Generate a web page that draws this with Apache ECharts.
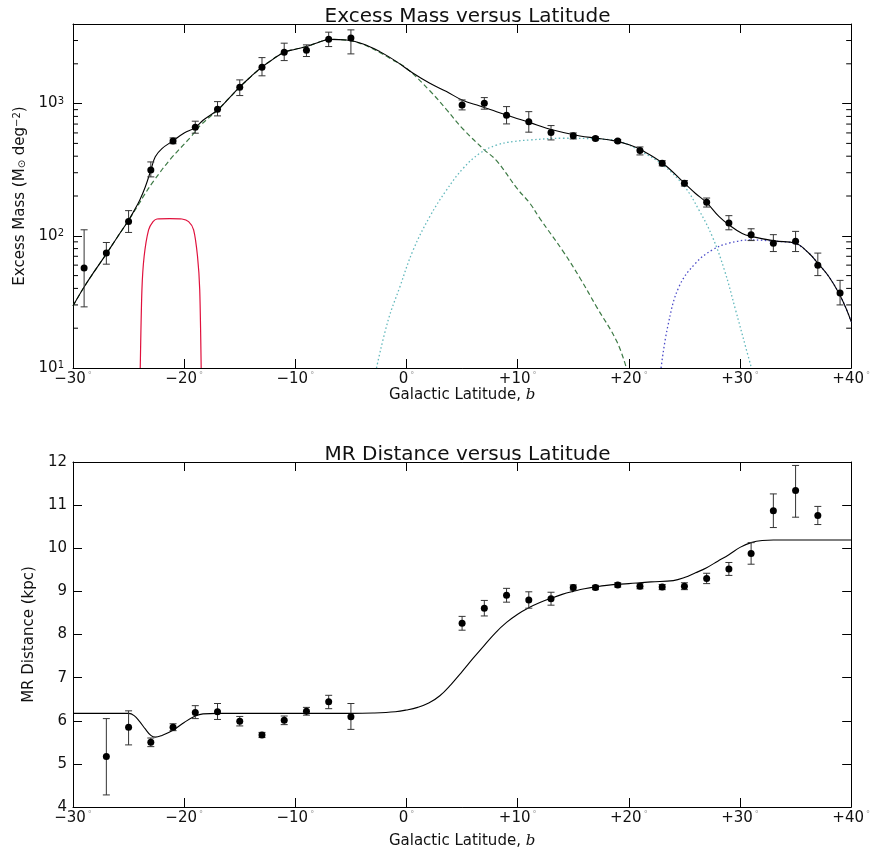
<!DOCTYPE html>
<html><head><meta charset="utf-8">
<script src="https://cdn.jsdelivr.net/npm/echarts@6/dist/echarts.min.js"></script>
<style>html,body{margin:0;padding:0;background:#fff}#c{width:873px;height:855px}</style>
</head><body><div id="c"></div>
<script>
// ---------- data ----------
const latTicks = [-30, -20, -10, 0, 10, 20, 30, 40];
const massDecades = [10, 100, 1000];
const massMinorTicks = [20,30,40,50,60,70,80,90,200,300,400,500,600,700,800,900,2000,3000];

// Excess mass measurements
const massX  = [-29,-27,-25,-23,-21,-19,-17,-15,-13,-11,-9,-7,-5, 5,7,9,11,13,15,17,19,21,23,25,27,29,31,33,35,37,39];
const massY  = [57,74,128,315,522,663,907,1330,1885,2450,2535,3070,3140, 977,1007,817,728,604,570,545,522,442,354,250,179,125,102,88,91,60,37];
const massHi = [111,89,155,362,550,736,1035,1511,2228,2864,2780,3470,3610, 1066,1110,949,869,682,600,560,535,470,370,262,193,142,113,102,108,74,46];
const massLo = [29,61,106,279,497,597,807,1150,1622,2115,2270,2700,2376, 896,907,702,608,531,540,530,508,409,338,238,165,111,92,76,76,50,30];

// Total fit (black solid)
const totalX = [-30,-29,-28,-27,-26,-25,-24.5,-24,-23.5,-23,-22.6,-22,-21,-20,-19,-18.3,-17,-16,-15,-14,-13,-12,-11,-10,-9,-8,-6.9,-5.4,-3.9,-2.4,-0.9,0.6,2.1,3.6,5.1,6.6,8.1,9.6,11.1,12.6,14.1,15.6,17.1,18.6,20.1,21.1,23.05,25,26,27,28.1,29,30.2,31.1,33.1,35,36.2,37,38,38.9,39.6,40];
const totalY = [29.5,41,55,73,98,131,155,186,234,313,396,457,523,600,658,748,895,1090,1337,1600,1893,2170,2450,2576,2700,2890,3060,3030,2825,2472,2078,1696,1425,1233,1054,960,869,788,718,650,604,569,547,525,487,447,354,250,209,178,140,121,104,98.6,91.5,87.9,73.8,62,49,36.7,27.5,22.4];

// Broad component (green dashed)
const broadX = [-30,-29,-28,-27,-26,-25,-24,-23.6,-22.7,-21.2,-19.4,-18.5,-17,-16,-15,-14,-13,-12,-11,-10,-9,-8,-6.9,-5.4,-3.9,-2.4,-1.5,0,2.1,3.6,5.1,7,8.1,10,11.1,12,14.1,15.6,17.1,18.9,19.75];
const broadY = [29.5,41,55,73,98,131,178,203,263,383,560,690,890,1090,1330,1600,1890,2170,2450,2576,2700,2890,3060,3020,2800,2440,2200,1850,1250,900,640,447,370,225,176,135,76,48,29,16,10.2];

// Narrow component (red)
const narrowX = [-23.95,-23.8,-23.6,-23.2,-22.8,-22.45,-21.3,-20.2,-19.6,-19.15,-18.8,-18.6,-18.47];
const narrowY = [10,39,70,111,128,134,135,134,128,111,70,39,10];

// Middle component (cyan dotted)
const midX = [-2.7,-1.65,-0.6,0.6,2.1,3.6,5.1,6.6,8.1,9.6,11.1,14.1,17.1,19.2,21.1,23.05,25,26.3,27.5,28.6,29.6,30.5,31];
const midY = [10,23,41,78,140,222,324,421,486,516,531,547,540,516,434,344,236,157,99,55,27.5,14.5,10.2];

// Far component (blue dotted)
const farX = [22.9,23.5,24.5,26,27.5,29,31.1,33.1,35,36.2,37,38,38.9,39.6,40];
const farY = [10,20.6,41,62,78,88,93,91,87,73.8,62,49,36.7,27.5,22.4];

// MR distance measurements
const distX  = [-27,-25,-23,-21,-19,-17,-15,-13,-11,-9,-7,-5,5,7,9,11,13,15,17,19,21,23,25,27,29,31,33,35,37];
const distY  = [5.17,5.85,5.50,5.85,6.19,6.21,5.99,5.67,6.01,6.22,6.44,6.09,8.26,8.61,8.91,8.80,8.83,9.09,9.09,9.15,9.12,9.10,9.12,9.30,9.52,9.88,10.87,11.34,10.76];
const distHi = [6.05,6.23,5.60,5.93,6.35,6.40,6.10,5.73,6.11,6.31,6.59,6.40,8.42,8.79,9.07,8.99,8.98,9.15,9.14,9.20,9.18,9.16,9.20,9.42,9.67,10.13,11.26,11.92,10.97];
const distLo = [4.28,5.44,5.40,5.77,6.05,6.03,5.88,5.61,5.91,6.13,6.28,5.80,8.10,8.43,8.75,8.61,8.68,9.03,9.04,9.10,9.06,9.04,9.04,9.18,9.37,9.63,10.48,10.72,10.55];

// MR distance model (black solid)
const distFitX = [-30,-25,-24.5,-24,-23.5,-23,-22.6,-22,-21,-20,-19,-18.3,-17,-5,-3,-1,0,1,2,3,4,5,6,7,8,9,10,11,12,13,14,15,16,18,20,22,24,25,26,27,28,29,30,31,32,33,40];
const distFitY = [6.17,6.17,6.12,5.98,5.81,5.66,5.62,5.66,5.78,5.96,6.11,6.16,6.17,6.17,6.18,6.21,6.25,6.31,6.41,6.58,6.84,7.14,7.45,7.75,8.04,8.28,8.47,8.62,8.74,8.84,8.93,9.00,9.06,9.14,9.18,9.22,9.25,9.32,9.43,9.55,9.70,9.85,10.02,10.13,10.18,10.19,10.19];

// ---------- helpers ----------
const FONT = 'DejaVu Sans';
const zip = (a, b) => a.map((v, i) => [v, b[i]]);

function latLabel(v) {
  const s = v === 0 ? '0' : (v > 0 ? '+' + v : '\u2212' + Math.abs(v));
  return '{n|' + s + '}{d|°}';
}
const latRich = {
  n: {fontSize: 15, fontFamily: FONT, color: '#111'},
  d: {fontSize: 8, fontFamily: FONT, color: '#999', verticalAlign: 'top', padding: [0, 0, 0, 2]}
};
function decadeLabel(v) {
  const e = Math.log10(v);
  if (Math.abs(e - Math.round(e)) > 1e-6) return '';
  return '{b|10}{s|' + Math.round(e) + '}';
}

function errSeries(xi, yi, xs, lo, hi) {
  return {
    type: 'custom', xAxisIndex: xi, yAxisIndex: yi, z: 4, silent: true,
    data: xs.map((x, i) => [x, lo[i], hi[i]]),
    encode: {x: 0, y: [1, 2]},
    renderItem: (params, api) => {
      const x = api.value(0);
      const a = api.coord([x, api.value(2)]);
      const b = api.coord([x, api.value(1)]);
      const w = 3.5, st = {stroke: '#333', lineWidth: 1};
      return {type: 'group', children: [
        {type: 'line', shape: {x1: a[0], y1: a[1], x2: b[0], y2: b[1]}, style: st},
        {type: 'line', shape: {x1: a[0] - w, y1: a[1], x2: a[0] + w, y2: a[1]}, style: st},
        {type: 'line', shape: {x1: b[0] - w, y1: b[1], x2: b[0] + w, y2: b[1]}, style: st}
      ]};
    }
  };
}

const lineAx = {onZero: false, lineStyle: {color: '#000', width: 1}};
const tickAx = {inside: true, length: 9, lineStyle: {color: '#000'}};

function xAxes(grid, nameGap) {
  return [
    {type: 'value', gridIndex: grid, min: -30, max: 40, interval: 10, position: 'bottom',
     name: '{a|Galactic Latitude, }{i|b}', nameLocation: 'middle', nameGap: nameGap,
     nameTextStyle: {rich: {a: {fontSize: 15, fontFamily: FONT, color: '#111'},
                            i: {fontSize: 15, fontFamily: 'DejaVu Serif', fontStyle: 'italic', color: '#111'}}},
     axisLine: lineAx, axisTick: tickAx,
     axisLabel: {formatter: latLabel, rich: latRich, margin: 4, showMinLabel: true, showMaxLabel: true},
     splitLine: {show: false}},
    {type: 'value', gridIndex: grid, min: -30, max: 40, interval: 10, position: 'top',
     axisLine: lineAx, axisTick: tickAx,
     axisLabel: {show: false}, splitLine: {show: false}}
  ];
}

const lineOpts = {type: 'line', showSymbol: false, smooth: 0.4, silent: true};

const chart = echarts.init(document.getElementById('c'), null, {renderer: 'canvas'});
chart.setOption({
  backgroundColor: '#fff',
  animation: false,
  title: [
    {text: 'Excess Mass versus Latitude', left: 462.5, top: 2, textAlign: 'center',
     textStyle: {fontFamily: FONT, fontSize: 20, fontWeight: 'normal', color: '#111'}},
    {text: 'MR Distance versus Latitude', left: 462.5, top: 440, textAlign: 'center',
     textStyle: {fontFamily: FONT, fontSize: 20, fontWeight: 'normal', color: '#111'}}
  ],
  grid: [
    {left: 73, top: 24, width: 779, height: 344},
    {left: 73, top: 462, width: 779, height: 345}
  ],
  xAxis: [...xAxes(0, 7), ...xAxes(1, 27)],
  yAxis: [
    {type: 'log', gridIndex: 0, min: 10, max: 4000, logBase: 10,
     name: '{a|Excess Mass (M}{u|⊙}{a| deg}{p|\u22122}{a|)}', nameLocation: 'middle', nameGap: 41,
     nameTextStyle: {rich: {a: {fontSize: 15, fontFamily: FONT, color: '#111'},
                            u: {fontSize: 10, fontFamily: FONT, color: '#111', verticalAlign: 'bottom'},
                            p: {fontSize: 10, fontFamily: FONT, color: '#111', verticalAlign: 'top'}}},
     axisLine: lineAx, axisTick: tickAx,
     axisLabel: {formatter: decadeLabel, margin: 9,
                 rich: {b: {fontSize: 15, fontFamily: FONT, color: '#111'},
                        s: {fontSize: 10, fontFamily: FONT, color: '#111', verticalAlign: 'top'}}},
     splitLine: {show: false}},
    {type: 'log', gridIndex: 0, min: 10, max: 4000, logBase: 10, position: 'right',
     axisLine: lineAx, axisTick: tickAx,
     axisLabel: {show: false}, splitLine: {show: false}},
    {type: 'value', gridIndex: 1, min: 4, max: 12, interval: 1,
     name: 'MR Distance (kpc)', nameLocation: 'middle', nameGap: 25,
     nameTextStyle: {fontSize: 15, fontFamily: FONT, color: '#111'},
     axisLine: lineAx, axisTick: tickAx,
     axisLabel: {fontSize: 15, fontFamily: FONT, color: '#111', margin: 6},
     splitLine: {show: false}},
    {type: 'value', gridIndex: 1, min: 4, max: 12, interval: 1, position: 'right',
     axisLine: lineAx, axisTick: tickAx,
     axisLabel: {show: false}, splitLine: {show: false}}
  ],
  series: [
    // minor log ticks on both sides of the upper panel
    {type: 'custom', xAxisIndex: 0, yAxisIndex: 0, silent: true, z: 1,
     data: massMinorTicks.map(v => [-30, v]), encode: {x: 0, y: 1},
     renderItem: (params, api) => {
       const cs = params.coordSys;
       const p = api.coord([-30, api.value(1)]);
       const st = {stroke: '#000', lineWidth: 1};
       return {type: 'group', children: [
         {type: 'line', shape: {x1: cs.x, y1: p[1], x2: cs.x + 5, y2: p[1]}, style: st},
         {type: 'line', shape: {x1: cs.x + cs.width - 5, y1: p[1], x2: cs.x + cs.width, y2: p[1]}, style: st}
       ]};
     }},
    {...lineOpts, xAxisIndex: 0, yAxisIndex: 0, data: zip(broadX, broadY),
     lineStyle: {color: '#3d7a45', width: 1.2, type: [5, 3]}, z: 2},
    {...lineOpts, xAxisIndex: 0, yAxisIndex: 0, data: zip(narrowX, narrowY), smooth: 0.25,
     lineStyle: {color: '#e0103c', width: 1.2}, z: 2},
    {...lineOpts, xAxisIndex: 0, yAxisIndex: 0, data: zip(midX, midY),
     lineStyle: {color: '#62b8bc', width: 1.3, type: [1.5, 2.5]}, z: 2},
    {...lineOpts, xAxisIndex: 0, yAxisIndex: 0, data: zip(farX, farY),
     lineStyle: {color: '#4a4ac8', width: 1.3, type: [1.5, 2.5]}, z: 2},
    {...lineOpts, xAxisIndex: 0, yAxisIndex: 0, data: zip(totalX, totalY),
     lineStyle: {color: '#000', width: 1.1}, z: 3},
    errSeries(0, 0, massX, massLo, massHi),
    {type: 'scatter', xAxisIndex: 0, yAxisIndex: 0, data: zip(massX, massY), symbol: 'circle', symbolSize: 7,
     itemStyle: {color: '#000', opacity: 1}, z: 5},

    {...lineOpts, xAxisIndex: 2, yAxisIndex: 2, data: zip(distFitX, distFitY),
     lineStyle: {color: '#000', width: 1.1}, z: 3},
    errSeries(2, 2, distX, distLo, distHi),
    {type: 'scatter', xAxisIndex: 2, yAxisIndex: 2, data: zip(distX, distY), symbol: 'circle', symbolSize: 7,
     itemStyle: {color: '#000', opacity: 1}, z: 5}
  ]
});
</script>
</body></html>
